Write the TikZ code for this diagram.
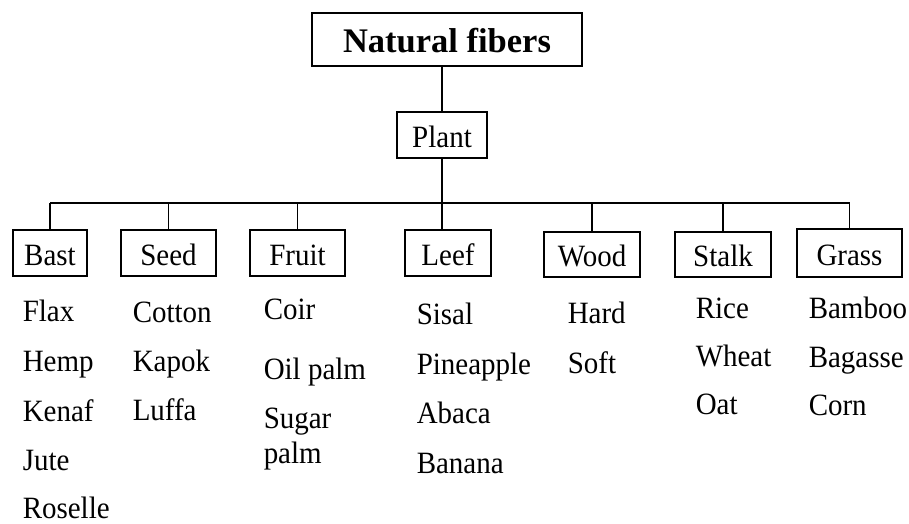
\documentclass[tikz,border=0pt]{standalone}
\usepackage{fontspec}
\setmainfont{Liberation Serif}
\newfontfamily\itemfont{Liberation Serif}[FakeStretch=0.935]
\begin{document}
\begin{tikzpicture}[x=1pt,y=-1pt,
  line width=1.5pt,
  box/.style={draw, line width=1.5pt, inner sep=0pt, font=\itemfont\fontsize{31}{36}\selectfont,
    text height=24pt, text depth=0pt},
  titlebox/.style={draw, line width=1.5pt, inner sep=0pt, font=\fontsize{34.5}{40}\selectfont\bfseries,
    text height=25pt, text depth=0pt},
  item/.style={anchor=base west, inner sep=0pt, font=\itemfont\fontsize{31}{36}\selectfont},
  conn/.style={draw, line width=1.5pt}]
\useasboundingbox (0,0) rectangle (909,523);

\node[titlebox, minimum width=270pt, minimum height=53pt] (title) at (447,39.5) {Natural fibers};
\node[box, minimum width=90pt, minimum height=46pt] (plant) at (442,135) {Plant};

\node[box, minimum width=74pt, minimum height=46pt] (bast) at (50,253) {Bast};
\node[box, minimum width=95pt, minimum height=46pt] (seed) at (168.5,253) {Seed};
\node[box, minimum width=95pt, minimum height=46pt] (fruit) at (297.5,253) {Fruit};
\node[box, minimum width=86pt, minimum height=46pt] (leef) at (448,253) {Leef};
\node[box, minimum width=96pt, minimum height=45pt] (wood) at (592,254.5) {Wood};
\node[box, minimum width=96pt, minimum height=45pt] (stalk) at (723,254.5) {Stalk};
\node[box, minimum width=105pt, minimum height=48pt] (grass) at (849.5,253) {Grass};

\coordinate (bus) at (0,203);

\path[conn] (plant.north) -- (plant.north |- title.south);
\path[conn] (plant.south) -- (plant.south |- leef.north);
\path[conn] (bast.north |- bus) -- (grass.north |- bus);
\foreach \n in {bast,seed,fruit,wood,stalk,grass}{
  \path[conn] (\n.north) -- (\n.north |- bus);
}

% Bast
\node[item] (flax) at (22,321) {Flax};
\node[item] (hemp) at (22,371) {Hemp};
\node[item] (kenaf) at (22,421) {Kenaf};
\node[item] (jute) at (22,470) {Jute};
\node[item] (roselle) at (22,518) {Roselle};
% Seed
\node[item] (cotton) at (132,322) {Cotton};
\node[item] (kapok) at (132,371) {Kapok};
\node[item] (luffa) at (132,420) {Luffa};
% Fruit
\node[item] (coir) at (263,319) {Coir};
\node[item] (oilpalm) at (263,379) {Oil palm};
\node[item] (sugar) at (263,428) {Sugar};
\node[item] (palm) at (263,463) {palm};
% Leef
\node[item] (sisal) at (416,324) {Sisal};
\node[item] (pineapple) at (416,374) {Pineapple};
\node[item] (abaca) at (416,423) {Abaca};
\node[item] (banana) at (416,473) {Banana};
% Wood
\node[item] (hard) at (567,323) {Hard};
\node[item] (soft) at (567,373) {Soft};
% Stalk
\node[item] (rice) at (695,318) {Rice};
\node[item] (wheat) at (695,366) {Wheat};
\node[item] (oat) at (695,414) {Oat};
% Grass
\node[item] (bamboo) at (808,318) {Bamboo};
\node[item] (bagasse) at (808,367) {Bagasse};
\node[item] (corn) at (808,415) {Corn};
\end{tikzpicture}
\end{document}
